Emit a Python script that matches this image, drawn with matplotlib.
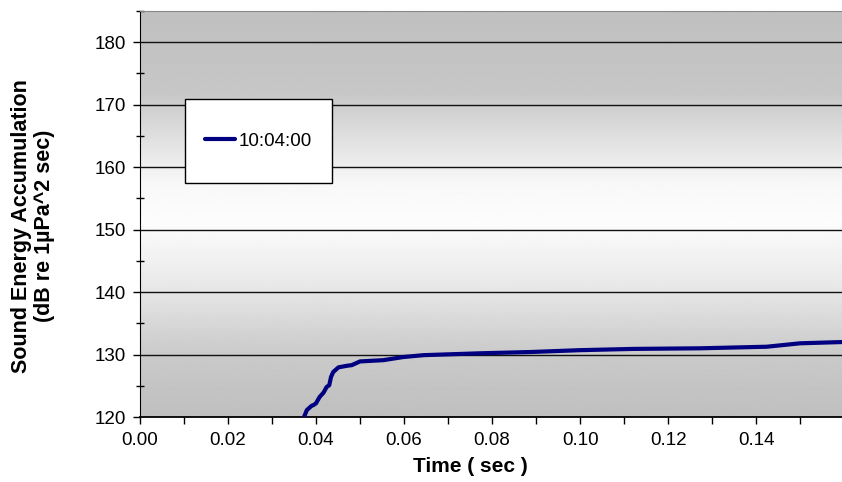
import numpy as np
import matplotlib
matplotlib.use("Agg")
import matplotlib.pyplot as plt
from matplotlib.ticker import MultipleLocator, FixedLocator
from matplotlib.patches import Rectangle

plt.rcParams["font.family"] = ["Liberation Sans", "DejaVu Sans"]

# ---- data ----
time_s = [0.0373, 0.0379, 0.0390, 0.0394, 0.0400, 0.0408, 0.0417, 0.0424, 0.0430,
          0.0434, 0.0439, 0.0451, 0.0470, 0.0481, 0.0500, 0.0553, 0.0598, 0.0644,
          0.0773, 0.0886, 0.1000, 0.1121, 0.1273, 0.1424, 0.1500, 0.1595]
energy_db = [120.05, 121.1, 121.8, 121.9, 122.2, 123.2, 123.9, 124.8, 125.1,
             126.4, 127.2, 127.95, 128.2, 128.3, 128.9, 129.1, 129.6, 129.9,
             130.2, 130.4, 130.7, 130.9, 131.0, 131.25, 131.8, 132.0]
series_label = "10:04:00"
x_ticklabels = ["0.00", "0.02", "0.04", "0.06", "0.08", "0.10", "0.12", "0.14"]
y_ticks = [120, 130, 140, 150, 160, 170, 180]

W, H = 842, 482
fig = plt.figure(figsize=(W / 100, H / 100), dpi=100)
ax = fig.add_axes([140 / W, 1 - 417 / H, 1 - 140 / W, (417 - 11) / H])

# background gradient: gray edges, white centre
t = np.linspace(0, 1, 400)
shade = np.interp(t, [0, 0.2, 0.42, 0.52, 0.66, 0.85, 1.0],
                  [0.75, 0.78, 0.97, 0.99, 0.92, 0.79, 0.75])
ax.imshow(np.repeat(shade[:, None], 2, axis=1), cmap="gray", vmin=0, vmax=1,
          extent=[0, 1, 0, 1], transform=ax.transAxes, aspect="auto",
          interpolation="bilinear", zorder=0)

ax.set_xlim(0, 0.1595)
ax.set_ylim(120, 185)

for yv in y_ticks[1:]:
    ax.axhline(yv, color="#111111", lw=1.0, zorder=1)

ax.plot(time_s, energy_db, color="#000080", lw=3.0, solid_joinstyle="round",
        solid_capstyle="round", zorder=3, label=series_label)

# ticks
ax.xaxis.set_major_locator(FixedLocator(np.arange(0, 0.16, 0.02)))
ax.set_xticklabels(x_ticklabels)
ax.xaxis.set_minor_locator(FixedLocator(np.arange(0.01, 0.16, 0.02)))
ax.yaxis.set_major_locator(FixedLocator(y_ticks))
ax.yaxis.set_minor_locator(MultipleLocator(5))
ax.tick_params(axis="both", which="major", direction="out", length=5, width=1,
               labelsize=13.5, colors="black")
ax.tick_params(axis="x", which="minor", direction="out", length=5, width=1)
ax.tick_params(axis="y", which="minor", direction="inout", length=6, width=1)
ax.tick_params(axis="y", which="major", pad=5)
ax.tick_params(axis="x", which="major", pad=6)

ax.spines["right"].set_visible(False)
ax.spines["top"].set_color("#888888")
ax.spines["left"].set_color("black")
ax.spines["bottom"].set_color("black")
ax.spines["bottom"].set_linewidth(1.3)

# legend box
x0, y0 = (185 - 140) / 702, (417 - 183) / 406
bw, bh = 147 / 702, 84 / 406
ax.add_patch(Rectangle((x0, y0), bw, bh, transform=ax.transAxes, facecolor="white",
                       edgecolor="black", lw=1.0, zorder=5))
ax.legend(loc="center", bbox_to_anchor=(x0 + bw / 2, y0 + bh / 2), frameon=False,
          fontsize=13.5, handlelength=1.6, handletextpad=0.15).set_zorder(6)

fig.text(470 / W, 1 - 467 / H, "Time ( sec )", ha="center", va="center",
         fontsize=15, fontweight="bold")
fig.text(33 / W, 1 - 226 / H, "Sound Energy Accumulation\n(dB re 1\u00b5Pa^2 sec)",
         ha="center", va="center", rotation=90, fontsize=15.5, fontweight="bold",
         linespacing=1.15, multialignment="center")

fig.savefig("out.png", dpi=100)
